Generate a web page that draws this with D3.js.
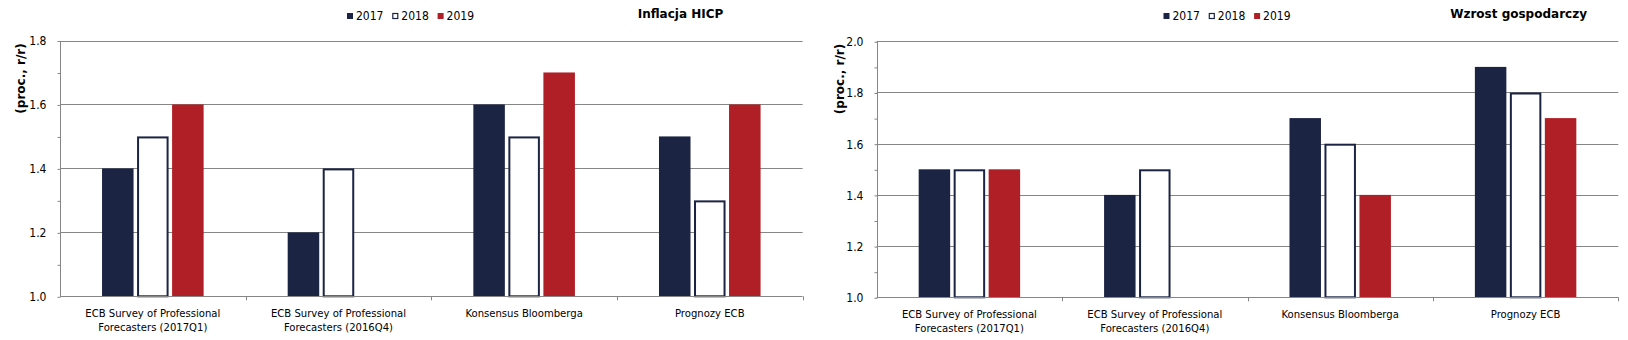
<!DOCTYPE html>
<html>
<head>
<meta charset="utf-8">
<script src="https://cdn.jsdelivr.net/npm/d3@7"></script>
<style>
  body { margin: 0; background: #fff; }
  svg text { font-family: "DejaVu Sans Condensed", "DejaVu Sans", sans-serif; font-stretch: condensed; fill: #000; }
  svg text.wide { font-family: "DejaVu Sans", sans-serif; font-stretch: normal; }
</style>
</head>
<body>
<div id="chart"></div>
<script>
// categories shared by both panels
const categories = [
  ["ECB Survey of Professional", "Forecasters (2017Q1)"],
  ["ECB Survey of Professional", "Forecasters (2016Q4)"],
  ["Konsensus Bloomberga"],
  ["Prognozy ECB"]
]
const years = ["2017", "2018", "2019"]

// inflation forecasts, one array per year (null = no forecast)
const hicp2017 = [1.4, 1.2, 1.6, 1.5]
const hicp2018 = [1.5, 1.4, 1.5, 1.3]
const hicp2019 = [1.6, null, 1.7, 1.6]

// GDP growth forecasts
const gdp2017 = [1.5, 1.4, 1.7, 1.9]
const gdp2018 = [1.5, 1.5, 1.6, 1.8]
const gdp2019 = [1.5, null, 1.4, 1.7]

const hicpTicks = [1.0, 1.2, 1.4, 1.6, 1.8]
const gdpTicks = [1.0, 1.2, 1.4, 1.6, 1.8, 2.0]

const navy = "#1c2444"
const red = "#b01f25"
const grid = "#868686"

let svg = d3.select("#chart").append("svg")
  .attr("width", 1628)
  .attr("height", 340)

function drawPanel(opts){
  let g = svg.append("g")

  let x = d3.scaleBand()
    .domain(d3.range(categories.length))
    .range([opts.left, opts.right])

  let xInner = d3.scaleBand()
    .domain(years)
    .range([0, x.bandwidth()])
    .paddingInner(0.1)
    .paddingOuter(1.2)

  let y = d3.scaleLinear()
    .domain(opts.domain)
    .range([opts.bottom, opts.top])

  // gridlines at each labelled value
  g.selectAll(".grid")
    .data(opts.ticks.slice(1))
    .join("line")
    .attr("x1", opts.left).attr("x2", opts.right)
    .attr("y1", d => Math.round(y(d)) + 0.5).attr("y2", d => Math.round(y(d)) + 0.5)
    .attr("stroke", grid)

  // y axis with minor ticks every 0.1
  let minor = d3.range(opts.domain[0], opts.domain[1] + 0.001, 0.1)
  let yAxis = d3.axisLeft(y)
    .tickValues(minor)
    .tickSize(3)
    .tickFormat(d => opts.ticks.some(t => Math.abs(t - d) < 1e-6) ? d3.format(".1f")(d) : "")
  let ya = g.append("g")
    .attr("transform", `translate(${Math.round(opts.left) + 0.5},0.5)`)
    .call(yAxis)
  ya.select(".domain").attr("stroke", grid).attr("d", `M0,${opts.top}V${opts.bottom}`)
  ya.selectAll(".tick line").attr("stroke", grid)
  ya.selectAll(".tick text")
    .attr("x", -14)
    .attr("font-size", 12)

  // bars
  let series = [opts.s2017, opts.s2018, opts.s2019]
  series.forEach((vals, si) => {
    g.selectAll(".bar" + si)
      .data(vals.map((v, i) => ({v, i})).filter(d => d.v !== null))
      .join("rect")
      .attr("x", d => x(d.i) + xInner(years[si]) + (si == 1 ? 1 : 0))
      .attr("y", d => y(d.v) + (si == 1 ? 1 : 0))
      .attr("width", xInner.bandwidth() - (si == 1 ? 2 : 0))
      .attr("height", d => y(opts.domain[0]) - y(d.v) - (si == 1 ? 1 : 0))
      .attr("fill", si == 0 ? navy : si == 1 ? "#fff" : red)
      .attr("stroke", si == 1 ? navy : "none")
      .attr("stroke-width", 2)
  })

  // x axis: baseline and category boundary ticks
  let xa = g.append("g")
  xa.append("line")
    .attr("x1", opts.left).attr("x2", opts.right)
    .attr("y1", Math.round(opts.bottom) + 0.5).attr("y2", Math.round(opts.bottom) + 0.5)
    .attr("stroke", grid)
  xa.selectAll(".xt")
    .data(d3.range(1, categories.length + 1))
    .join("line")
    .attr("x1", d => Math.round(x(d - 1) + x.bandwidth()) + 0.5)
    .attr("x2", d => Math.round(x(d - 1) + x.bandwidth()) + 0.5)
    .attr("y1", opts.bottom).attr("y2", opts.bottom + 4)
    .attr("stroke", grid)

  let labels = xa.selectAll(".cat")
    .data(categories)
    .join("text")
    .attr("text-anchor", "middle")
    .attr("font-size", 11.2)
  labels.selectAll("tspan")
    .data((d, i) => d.map(line => ({line, i})))
    .join("tspan")
    .attr("x", d => x(d.i) + x.bandwidth() / 2)
    .attr("y", (d, j) => opts.bottom + 20.5 + j * 14.6)
    .text(d => d.line)

  // y axis title
  g.append("text")
    .attr("class", "wide")
    .attr("transform", `translate(${opts.titleX},${opts.titleY}) rotate(-90)`)
    .attr("text-anchor", "middle")
    .attr("dy", "0.35em")
    .attr("font-size", 12)
    .attr("font-weight", "bold")
    .text("(proc., r/r)")

  // legend
  let lg = g.append("g").attr("transform", `translate(${opts.legendX},16)`)
  let item = lg.selectAll("g")
    .data(years)
    .join("g")
    .attr("transform", (d, i) => `translate(${i * 45.3},0)`)
  item.append("rect")
    .attr("x", (d, i) => i == 1 ? 0.5 : 0).attr("y", (d, i) => i == 1 ? -2.5 : -3)
    .attr("width", (d, i) => i == 1 ? 5 : 6).attr("height", (d, i) => i == 1 ? 5 : 6)
    .attr("fill", (d, i) => i == 0 ? navy : i == 1 ? "#fff" : red)
    .attr("stroke", (d, i) => i == 1 ? navy : "none")
    .attr("stroke-width", 1.2)
  item.append("text")
    .attr("x", 9)
    .attr("dy", "0.35em")
    .attr("font-size", 12)
    .text(d => d)

  // panel title
  g.append("text")
    .attr("class", "wide")
    .attr("x", opts.headX)
    .attr("y", 14)
    .attr("dy", "0.35em")
    .attr("text-anchor", "middle")
    .attr("font-size", 12)
    .attr("font-weight", "bold")
    .text(opts.title)
}

drawPanel({
  left: 60, right: 802.6, top: 40.5, bottom: 296.3,
  domain: [1.0, 1.8], ticks: hicpTicks,
  s2017: hicp2017, s2018: hicp2018, s2019: hicp2019,
  titleX: 21, titleY: 78.5,
  legendX: 347, headX: 680.5, title: "Inflacja HICP"
})

drawPanel({
  left: 876.7, right: 1618.3, top: 41.3, bottom: 297.3,
  domain: [1.0, 2.0], ticks: gdpTicks,
  s2017: gdp2017, s2018: gdp2018, s2019: gdp2019,
  titleX: 840, titleY: 79,
  legendX: 1163.5, headX: 1518.6, title: "Wzrost gospodarczy"
})
</script>
</body>
</html>
